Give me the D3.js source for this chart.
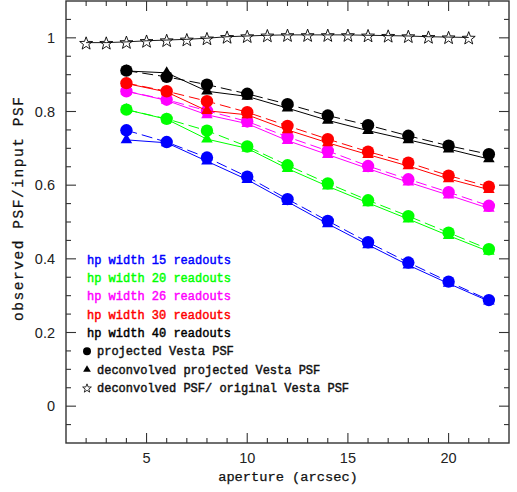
<!DOCTYPE html>
<html>
<head>
<meta charset="utf-8">
<script src="https://cdn.jsdelivr.net/npm/d3@7"></script>
<style>
  html, body { margin: 0; padding: 0; background: #fff; }
  svg { display: block; }
</style>
</head>
<body>
<svg id="chart" width="517" height="492"></svg>
<script>
// Aperture values where the PSF ratio was measured
const apertures = [4, 6, 8, 10, 12, 14, 16, 18, 20, 22];

// Projected Vesta PSF (circles, dashed) and deconvolved projected PSF (triangles, solid)
const proj15   = [0.749, 0.717, 0.675, 0.623, 0.562, 0.503, 0.445, 0.390, 0.338, 0.288];
const deconv15 = [0.723, 0.715, 0.665, 0.615, 0.555, 0.495, 0.438, 0.383, 0.333, 0.285];
const proj20   = [0.805, 0.780, 0.748, 0.705, 0.654, 0.605, 0.559, 0.516, 0.471, 0.426];
const deconv20 = [0.805, 0.779, 0.725, 0.700, 0.645, 0.597, 0.552, 0.508, 0.463, 0.420];
const proj26   = [0.855, 0.832, 0.802, 0.773, 0.731, 0.693, 0.652, 0.616, 0.581, 0.544];
const deconv26 = [0.855, 0.830, 0.791, 0.767, 0.721, 0.683, 0.645, 0.608, 0.573, 0.537];
const proj30   = [0.877, 0.855, 0.828, 0.798, 0.761, 0.725, 0.691, 0.661, 0.626, 0.596];
const deconv30 = [0.876, 0.853, 0.802, 0.791, 0.750, 0.715, 0.683, 0.652, 0.617, 0.588];
const proj40   = [0.911, 0.894, 0.873, 0.848, 0.820, 0.789, 0.763, 0.734, 0.707, 0.684];
const deconv40 = [0.910, 0.905, 0.855, 0.841, 0.809, 0.776, 0.748, 0.723, 0.698, 0.671];

// Deconvolved PSF / original Vesta PSF (stars)
const starApertures = [2, 3, 4, 5, 6, 7, 8, 9, 10, 11, 12, 13, 14, 15, 16, 17, 18, 19, 20, 21];
const starValues = [0.987, 0.987, 0.989, 0.992, 0.994, 0.996, 0.999, 1.003, 1.005, 1.007,
                    1.008, 1.008, 1.008, 1.008, 1.007, 1.006, 1.005, 1.003, 1.002, 1.001];

const seriesLabels = ["hp width 15 readouts", "hp width 20 readouts", "hp width 26 readouts",
                      "hp width 30 readouts", "hp width 40 readouts"];
const seriesColors = ["#0000ff", "#00ff00", "#ff00ff", "#ff0000", "#000000"];
const projSeries = [proj15, proj20, proj26, proj30, proj40];
const deconvSeries = [deconv15, deconv20, deconv26, deconv30, deconv40];

const symbolLabels = ["projected Vesta PSF", "deconvolved projected Vesta PSF",
                      "deconvolved PSF/ original Vesta PSF"];

const xTicks = [5, 10, 15, 20];
const yTicks = [0, 0.2, 0.4, 0.6, 0.8, 1];

const svg = d3.select("#chart");
const margin = { left: 66, top: 1, right: 8, bottom: 49 };
const W = 517, H = 492;

const x = d3.scaleLinear().domain([1, 23]).range([margin.left, W - margin.right]);
const y = d3.scaleLinear().domain([-0.1, 1.1]).range([H - margin.bottom, margin.top]);

const axisColor = "#333";
const tickFont = "'Liberation Sans', Arial, sans-serif";
const monoFont = "'Liberation Mono', 'Courier New', monospace";

// ---- axes: inward ticks on all four sides ----
const xMinor = d3.range(2, 23, 1);
const yMinor = d3.range(-0.05, 1.1, 0.05);
const g = svg.append("g");

function addTicks(vals, isX, len) {
  vals.forEach(v => {
    if (isX) {
      const px = x(v);
      g.append("line").attr("x1", px).attr("x2", px)
        .attr("y1", y(-0.1)).attr("y2", y(-0.1) - len);
      g.append("line").attr("x1", px).attr("x2", px)
        .attr("y1", y(1.1)).attr("y2", y(1.1) + len);
    } else {
      const py = y(v);
      g.append("line").attr("y1", py).attr("y2", py)
        .attr("x1", x(1)).attr("x2", x(1) + len);
      g.append("line").attr("y1", py).attr("y2", py)
        .attr("x1", x(23)).attr("x2", x(23) - len);
    }
  });
}
addTicks(xMinor.filter(v => v % 5 !== 0), true, 5);
addTicks(xTicks, true, 10);
addTicks(yMinor.filter(v => Math.abs(Math.round(v * 5) - v * 5) > 1e-6), false, 5);
addTicks(yTicks, false, 10);
g.selectAll("line").attr("stroke", axisColor).attr("stroke-width", 1.1);

svg.append("rect")
  .attr("x", x(1)).attr("y", y(1.1))
  .attr("width", x(23) - x(1)).attr("height", y(-0.1) - y(1.1))
  .attr("fill", "none").attr("stroke", axisColor).attr("stroke-width", 1.4);

// tick labels
svg.append("g").selectAll("text").data(xTicks).join("text")
  .attr("x", d => x(d)).attr("y", 462.5)
  .attr("text-anchor", "middle")
  .attr("font-family", tickFont).attr("font-size", 14.5).attr("fill", "#222")
  .text(d => d);

svg.append("g").selectAll("text").data(yTicks).join("text")
  .attr("x", 55).attr("y", d => y(d) + 5)
  .attr("text-anchor", "end")
  .attr("font-family", tickFont).attr("font-size", 14.5).attr("fill", "#222")
  .text(d => d3.format("")(d));

// axis titles
svg.append("text")
  .attr("x", 288).attr("y", 481)
  .attr("text-anchor", "middle")
  .attr("font-family", monoFont).attr("font-size", 13.7).attr("fill", "#111")
  .attr("stroke", "#111").attr("stroke-width", 0.25)
  .text("aperture (arcsec)");

svg.append("text")
  .attr("transform", "translate(22.5,209) rotate(-90)")
  .attr("text-anchor", "middle")
  .attr("font-family", monoFont).attr("font-size", 14.5).attr("fill", "#111")
  .attr("stroke", "#111").attr("stroke-width", 0.25)
  .attr("textLength", 224).attr("lengthAdjust", "spacing")
  .text("observed PSF/input PSF");

// ---- marks ----
function starPath(cx, cy, ro, ri) {
  const pts = [];
  for (let i = 0; i < 10; i++) {
    const r = i % 2 === 0 ? ro : ri;
    const a = -Math.PI / 2 + i * Math.PI / 5;
    pts.push([cx + r * Math.cos(a), cy + r * Math.sin(a)]);
  }
  return "M" + pts.map(p => p[0].toFixed(2) + "," + p[1].toFixed(2)).join("L") + "Z";
}

const line = d3.line().x(d => x(d[0])).y(d => y(d[1]));
const triangle = d3.symbol(d3.symbolTriangle).size(58);

const plot = svg.append("g");

// star series
const starData = starApertures.map((a, i) => [a, starValues[i]]);
plot.append("g").selectAll("path").data(starData).join("path")
  .attr("d", d => starPath(x(d[0]), y(d[1]) + 1, 6.8, 2.8))
  .attr("fill", "#fff").attr("stroke", "#000").attr("stroke-width", 0.9);
plot.append("path").datum(starData).attr("d", line)
  .attr("fill", "none").attr("stroke", "#000").attr("stroke-width", 0.9);

// coloured series
projSeries.forEach((proj, k) => {
  const color = seriesColors[k];
  const pd = apertures.map((a, i) => [a, proj[i]]);
  const dd = apertures.map((a, i) => [a, deconvSeries[k][i]]);
  const sg = plot.append("g");
  sg.append("path").datum(dd).attr("d", line)
    .attr("fill", "none").attr("stroke", color).attr("stroke-width", 1);
  sg.append("path").datum(pd).attr("d", line)
    .attr("fill", "none").attr("stroke", color).attr("stroke-width", 1)
    .attr("stroke-dasharray", "11,5");
  sg.append("g").selectAll("path").data(dd).join("path")
    .attr("transform", d => `translate(${x(d[0])},${y(d[1])})`)
    .attr("d", triangle).attr("fill", color);
  sg.append("g").selectAll("circle").data(pd).join("circle")
    .attr("cx", d => x(d[0])).attr("cy", d => y(d[1])).attr("r", 6.2)
    .attr("fill", color);
});

// ---- legend ----
const leg = svg.append("g")
  .attr("font-family", monoFont).attr("font-size", 12);
const rowY = i => 263.5 + i * 18.35;

seriesLabels.forEach((t, i) => {
  leg.append("text").attr("x", 87).attr("y", rowY(i))
    .attr("fill", seriesColors[i]).attr("stroke", seriesColors[i]).attr("stroke-width", 0.45)
    .text(t);
});
symbolLabels.forEach((t, j) => {
  leg.append("text").attr("x", 97).attr("y", rowY(5 + j))
    .attr("fill", "#111").attr("stroke", "#111").attr("stroke-width", 0.45)
    .text(t);
});
leg.append("circle").attr("cx", 87).attr("cy", rowY(5) - 4).attr("r", 4).attr("fill", "#000");
leg.append("path")
  .attr("transform", `translate(87,${rowY(6) - 4})`)
  .attr("d", d3.symbol(d3.symbolTriangle).size(26)).attr("fill", "#000");
leg.append("path")
  .attr("d", starPath(87, rowY(7) - 3.5, 4.6, 1.9))
  .attr("fill", "#fff").attr("stroke", "#000").attr("stroke-width", 0.8);
</script>
</body>
</html>
